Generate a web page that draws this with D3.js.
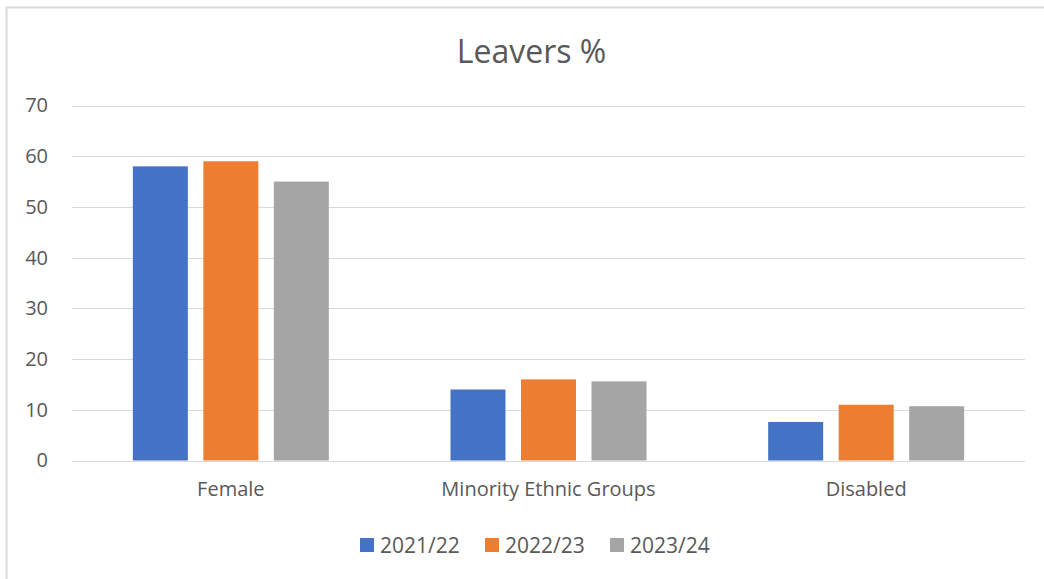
<!DOCTYPE html>
<html><head><meta charset="utf-8">
<script src="https://cdn.jsdelivr.net/npm/d3@7"></script>
<style>body{margin:0;background:#fff}svg{display:block;font-family:"Open Sans","Liberation Sans",sans-serif}</style>
</head><body><svg id="c" width="1044" height="579"></svg>
<script>
const categories = ["Female", "Minority Ethnic Groups", "Disabled"];
const seriesNames = ["2021/22", "2022/23", "2023/24"];
const v2021 = [58, 14, 7.6];
const v2022 = [59, 16, 11];
const v2023 = [55, 15.6, 10.7];
const yTicks = [0, 10, 20, 30, 40, 50, 60, 70];
const colors = ["#4472C4", "#ED7D31", "#A5A5A5"];
const seriesValues = [v2021, v2022, v2023];

(function () {
const svg = d3.select("#c");
svg.append("rect").attr("x", 6.5).attr("y", 7.5).attr("width", 1060).attr("height", 600)
  .attr("fill", "#fff").attr("stroke", "#d9d9d9").attr("stroke-width", 2);

const pLeft = 72, pRight = 1025, pTop = 105.5, pBottom = 460.5;
const y = d3.scaleLinear().domain([0, 70]).range([pBottom, pTop]);
const x0 = d3.scaleBand().domain(categories).range([pLeft, pRight]).padding(0);
const x1 = d3.scaleBand().domain(seriesNames).range([0, x0.bandwidth()]).paddingInner(0.22).paddingOuter(0.863);

svg.append("text").attr("x", 531.5).attr("y", 63).attr("text-anchor", "middle")
  .attr("font-size", 32).attr("fill", "#595959").text("Leavers %");

const grid = svg.append("g");
grid.selectAll("line").data(yTicks).join("line")
  .attr("x1", pLeft).attr("x2", pRight)
  .attr("y1", d => Math.round(y(d)) + 0.5).attr("y2", d => Math.round(y(d)) + 0.5)
  .attr("stroke", "#d9d9d9").attr("stroke-width", 1);

const yAxis = d3.axisLeft(y).tickValues(yTicks).tickSize(0).tickPadding(0);
const ya = svg.append("g").attr("transform", `translate(48,0)`).call(yAxis);
ya.select(".domain").remove();
ya.selectAll("text").attr("font-size", 20).attr("fill", "#595959").attr("font-family", "'Open Sans','Liberation Sans',sans-serif");

const groups = svg.append("g").selectAll("g").data(categories).join("g")
  .attr("transform", d => `translate(${x0(d)},0)`);
groups.selectAll("rect").data((d, i) => seriesNames.map((s, j) => ({s, v: seriesValues[j][i], c: colors[j]})))
  .join("rect")
  .attr("x", d => x1(d.s)).attr("width", x1.bandwidth())
  .attr("y", d => y(d.v)).attr("height", d => y(0) - y(d.v))
  .attr("fill", d => d.c);

const xAxis = d3.axisBottom(x0).tickSize(0).tickPadding(0);
const xa = svg.append("g").attr("transform", `translate(0,${pBottom + 19})`).call(xAxis);
xa.select(".domain").remove();
xa.selectAll("text").attr("font-size", 20).attr("dy", "0.8em").attr("fill", "#595959").attr("font-family", "'Open Sans','Liberation Sans',sans-serif");

const legX = [360, 485, 610];
const leg = svg.append("g").selectAll("g").data(seriesNames).join("g")
  .attr("transform", (d, i) => `translate(${legX[i]},538)`);
leg.append("rect").attr("width", 14).attr("height", 14).attr("fill", (d, i) => colors[i]);
leg.append("text").attr("x", 20).attr("y", 14.5).attr("font-size", 21).attr("fill", "#595959").text(d => d);
})();
</script></body></html>
